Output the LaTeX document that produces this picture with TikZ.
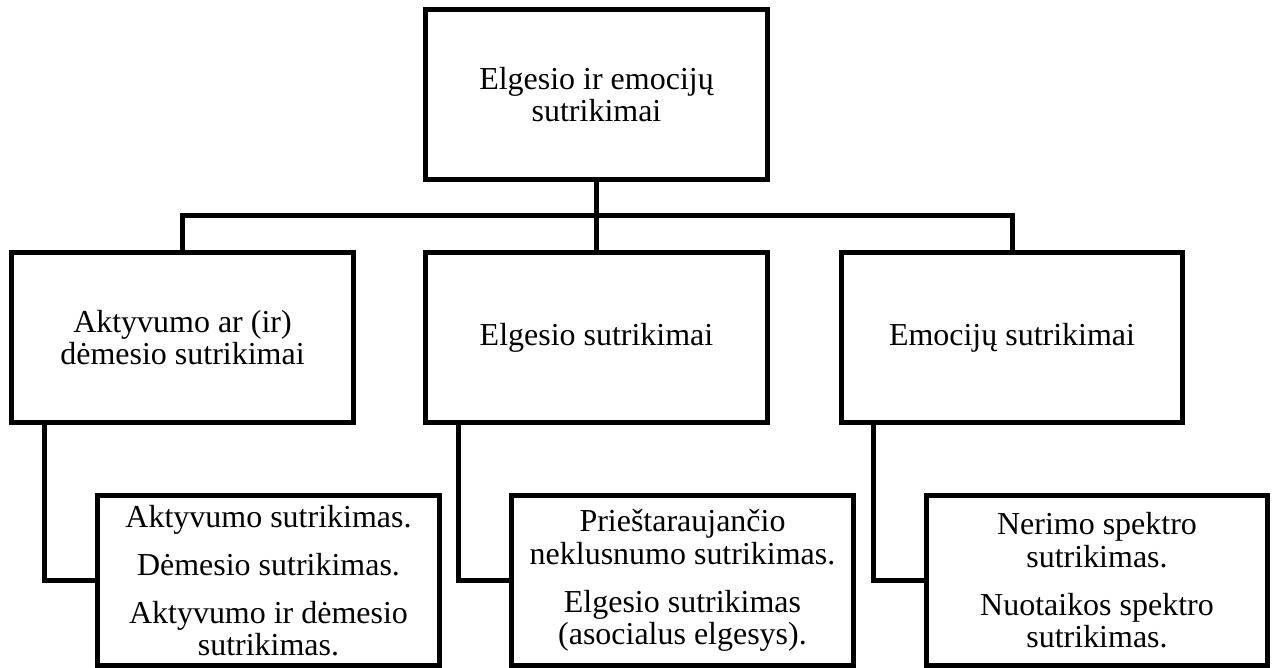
\documentclass[tikz,border=0pt]{standalone}
\usepackage{fontspec}
\setmainfont{Liberation Serif}
\usetikzlibrary{calc}
\begin{document}
\begin{tikzpicture}[x=0.02cm, y=-0.02cm,
  box/.style={draw, line width=0.1cm, minimum width=6.84cm, minimum height=3.4cm,
    align=center, inner sep=0pt, font=\fontsize{18.2pt}{18.4pt}\selectfont},
  link/.style={line width=0.1cm}]
  \useasboundingbox (0,0) rectangle (1275,668);

  \node[box] (root) at (596.5,94.5) {Elgesio ir emocijų\\sutrikimai};

  \node[box] (act) at (182.5,337.5) {Aktyvumo ar (ir)\\dėmesio sutrikimai};
  \node[box] (elg) at (596.5,337.5) {Elgesio sutrikimai};
  \node[box] (emo) at (1012,337.5) {Emocijų sutrikimai};

  \node[box] (actsub) at (268.5,580.5) {Aktyvumo sutrikimas.\\[9pt]
    Dėmesio sutrikimas.\\[9pt]Aktyvumo ir dėmesio\\sutrikimas.};
  \node[box] (elgsub) at (682.5,580.5) {Prieštaraujančio\\neklusnumo sutrikimas.\\[9pt]
    Elgesio sutrikimas\\(asocialus elgesys).};
  \node[box] (emosub) at (1097,580.5) {Nerimo spektro\\sutrikimas.\\[9pt]
    Nuotaikos spektro\\sutrikimas.};

  % Draw the tree lines
  \draw[link] (root.south) -- (elg.north);
  \draw[link] (act.north) |- ($(root.south)!.5!(elg.north)$) -| (emo.north);

  \draw[link] ([xshift=0.7cm]act.south west) |- (actsub.west);
  \draw[link] ([xshift=0.7cm]elg.south west) |- (elgsub.west);
  \draw[link] ([xshift=0.7cm]emo.south west) |- (emosub.west);

\end{tikzpicture}
\end{document}
